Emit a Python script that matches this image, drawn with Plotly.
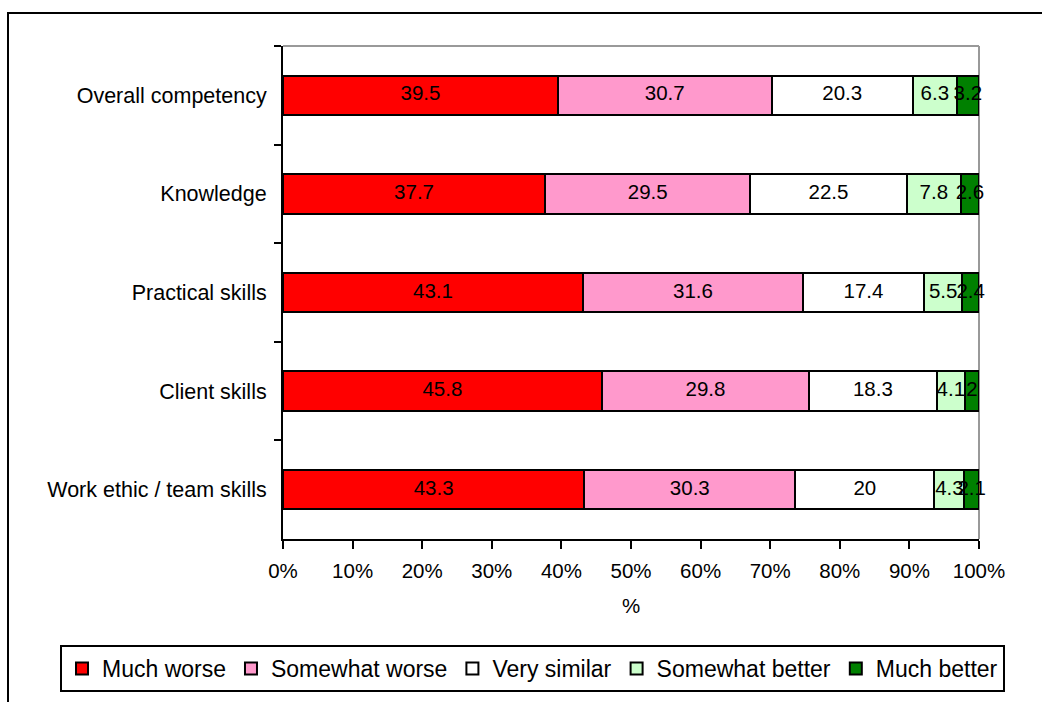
import plotly.graph_objects as go

# Survey ratings per competency area (percent of respondents)
categories = [
    "Overall competency",
    "Knowledge",
    "Practical skills",
    "Client skills",
    "Work ethic / team skills",
]
much_worse = [39.5, 37.7, 43.1, 45.8, 43.3]
somewhat_worse = [30.7, 29.5, 31.6, 29.8, 30.3]
very_similar = [20.3, 22.5, 17.4, 18.3, 20]
somewhat_better = [6.3, 7.8, 5.5, 4.1, 4.3]
much_better = [3.2, 2.6, 2.4, 2, 2.1]

series_names = ["Much worse", "Somewhat worse", "Very similar", "Somewhat better", "Much better"]
series_values = [much_worse, somewhat_worse, very_similar, somewhat_better, much_better]
series_colors = ["#FF0000", "#FF99CC", "#FFFFFF", "#CCFFCC", "#008000"]

x_ticks = list(range(0, 101, 10))
x_tick_labels = [f"{t}%" for t in x_ticks]

FONT = "Arial, Liberation Sans, sans-serif"

W, H = 1042, 702
L, R, T, B = 283, 63, 46, 163
PW, PH = W - L - R, H - T - B


def px_x(p):
    return (p - L) / PW


def px_y(p):
    return (H - B - p) / PH


fig = go.Figure()

# stacked bars, normalised to 100% per row
for name, vals, color in zip(series_names, series_values, series_colors):
    fig.add_trace(go.Bar(
        name=name,
        y=categories,
        x=vals,
        orientation="h",
        marker=dict(color=color, line=dict(color="#000000", width=2)),
        hoverinfo="skip",
    ))

# value labels centred on each segment (placed on the normalised scale)
row_totals = [sum(row) for row in zip(*series_values)]
running = [0.0] * len(categories)
for vals in series_values:
    mids = []
    for i, v in enumerate(vals):
        mids.append((running[i] + v / 2) / row_totals[i] * 100)
        running[i] += v
    fig.add_trace(go.Scatter(
        x=mids,
        y=categories,
        mode="text",
        text=[f"{v:g}" for v in vals],
        textposition="middle center",
        textfont=dict(family=FONT, size=20.5, color="#000000"),
        cliponaxis=False,
        showlegend=False,
        hoverinfo="skip",
    ))

fig.update_layout(
    width=W,
    height=H,
    margin=dict(l=L, r=R, t=T, b=B, autoexpand=False),
    paper_bgcolor="#FFFFFF",
    plot_bgcolor="#FFFFFF",
    barmode="stack",
    barnorm="percent",
    bargap=0.6,
    font=dict(family=FONT, size=20.5, color="#000000"),
    showlegend=True,
    legend=dict(
        orientation="h",
        x=px_x(60),
        xanchor="left",
        y=px_y(645),
        yanchor="top",
        bordercolor="#000000",
        borderwidth=2,
        bgcolor="#FFFFFF",
        font=dict(family=FONT, size=23, color="#000000"),
        traceorder="normal",
        itemwidth=30,
    ),
    xaxis=dict(
        range=[0, 100],
        tickmode="array",
        tickvals=x_ticks,
        ticktext=x_tick_labels,
        ticks="outside",
        ticklen=8,
        tickwidth=2,
        tickcolor="#000000",
        ticklabelstandoff=4,
        showline=True,
        linecolor="#000000",
        linewidth=2,
        showgrid=False,
        zeroline=False,
        title=dict(text="%", font=dict(family=FONT, size=20.5), standoff=18),
        tickfont=dict(family=FONT, size=20.5),
    ),
    yaxis=dict(
        type="category",
        categoryorder="array",
        categoryarray=categories,
        autorange="reversed",
        tickson="boundaries",
        ticks="outside",
        ticklen=7,
        tickwidth=2,
        tickcolor="#000000",
        ticklabelstandoff=10,
        showline=True,
        linecolor="#000000",
        linewidth=2,
        showgrid=False,
        zeroline=False,
        tickfont=dict(family=FONT, size=21.5),
    ),
    shapes=[
        # outer chart frame (continues past the page edge on right and bottom)
        dict(type="rect", xref="paper", yref="paper",
             x0=px_x(8), x1=px_x(1060), y0=px_y(720), y1=px_y(13),
             line=dict(color="#000000", width=2), fillcolor="rgba(0,0,0,0)", layer="below"),
        # plot area frame on top and right
        dict(type="line", xref="paper", yref="paper", x0=0, x1=1, y0=1, y1=1,
             line=dict(color="#999999", width=2), layer="below"),
        dict(type="line", xref="paper", yref="paper", x0=1, x1=1, y0=0, y1=1,
             line=dict(color="#999999", width=2), layer="below"),
    ],
)

fig.write_html("out.html")
